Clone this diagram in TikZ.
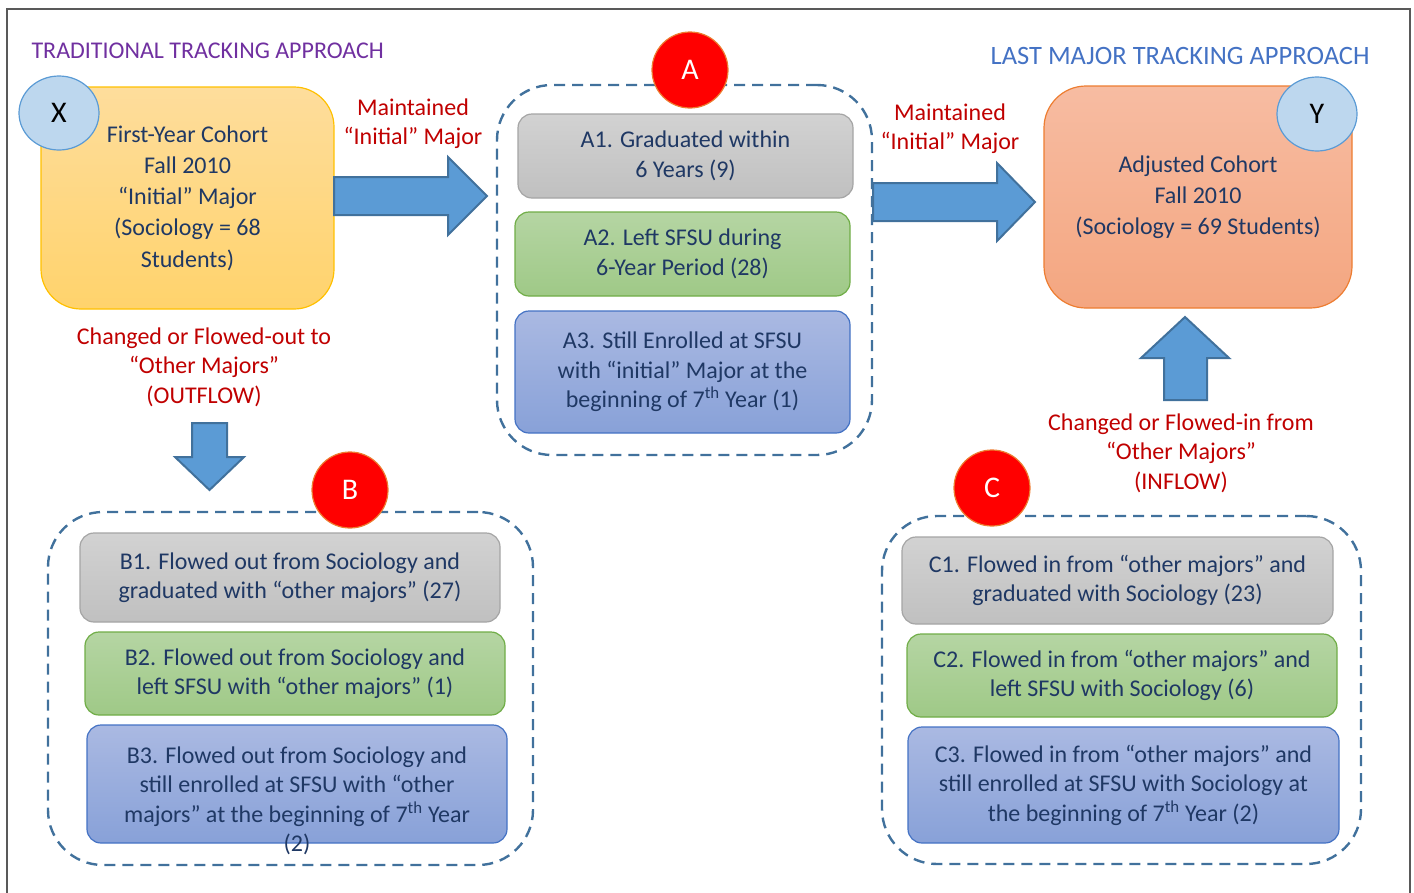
\documentclass[tikz,border=0pt]{standalone}
\usepackage{fontspec}
\setmainfont{Carlito}
\usepackage{xcolor}
\usetikzlibrary{shapes}
\usetikzlibrary{positioning}

\definecolor{txtblue}{HTML}{1F3864}
\definecolor{notered}{HTML}{C00000}
\definecolor{titlepurple}{HTML}{7030A0}
\definecolor{titleblue}{HTML}{4472C4}
\definecolor{frameline}{HTML}{595959}
\definecolor{dashblue}{HTML}{41719C}
\definecolor{arrowfill}{HTML}{5B9BD5}
\definecolor{arrowline}{HTML}{41719C}
\definecolor{grayA}{HTML}{D2D2D2}
\definecolor{grayB}{HTML}{C0C0C0}
\definecolor{grayline}{HTML}{A5A5A5}
\definecolor{greenA}{HTML}{B5D5A3}
\definecolor{greenB}{HTML}{9FC987}
\definecolor{greenline}{HTML}{70AD47}
\definecolor{blueA}{HTML}{AAB9E2}
\definecolor{blueB}{HTML}{88A1D8}
\definecolor{blueline}{HTML}{4472C4}
\definecolor{orangeA}{HTML}{FEDD9C}
\definecolor{orangeB}{HTML}{FFD36C}
\definecolor{orangeline}{HTML}{FFC000}
\definecolor{salmonA}{HTML}{F7BCA2}
\definecolor{salmonB}{HTML}{F4A680}
\definecolor{salmonline}{HTML}{ED7D31}
\definecolor{tagred}{HTML}{FF0000}
\definecolor{tagline}{HTML}{ED7D31}
\definecolor{whofill}{HTML}{BDD7EE}
\definecolor{wholine}{HTML}{5B9BD5}

\begin{document}
\begin{tikzpicture}[x=1pt, y=-1pt,
  every node/.style={font=\fontsize{24}{29.5}\selectfont, text=txtblue, align=center},
  box/.style={rectangle, rounded corners=14pt, line width=1.2pt, inner sep=0pt,
    execute at begin node={\rule{0pt}{23pt}}},
  graybox/.style={box, draw=grayline, top color=grayA, bottom color=grayB},
  greenbox/.style={box, draw=greenline, top color=greenA, bottom color=greenB},
  bluebox/.style={box, draw=blueline, top color=blueA, bottom color=blueB},
  group/.style={draw=dashblue, dash pattern=on 11pt off 7pt, line width=2.4pt,
    rounded corners=55pt, rectangle, inner sep=0pt},
  tag/.style={circle, minimum size=76pt, fill=tagred, draw=tagline, line width=1.2pt,
    text=white, font=\fontsize{30}{32}\selectfont},
  who/.style={ellipse, minimum width=80pt, minimum height=74pt, fill=whofill,
    draw=wholine, line width=1.2pt, text=black, font=\fontsize{30}{32}\selectfont},
  flow/.style={fill=arrowfill, draw=arrowline, line width=2pt, line join=miter},
  note/.style={text=notered},
]
\useasboundingbox (0,0) rectangle (1414,892);
\draw[frameline, line width=2pt] (7,9) rectangle (1410,910);

% titles
\node[text=titlepurple, anchor=west] (tradtitle) at (28,51) {TRADITIONAL TRACKING APPROACH};
\node[text=titleblue, anchor=east, font=\fontsize{26.5}{30}\selectfont] (lasttitle) at (1373,56) {LAST MAJOR TRACKING APPROACH};

% cohorts
\node[box, rounded corners=40pt, draw=orangeline, top color=orangeA, bottom color=orangeB,
  minimum width=293pt, minimum height=222pt, font=\fontsize{24}{31.2}\selectfont] (xbox) at (187.5,198)
  {First-Year Cohort\\Fall 2010\\“Initial” Major\\(Sociology = 68\\Students)};
\node[who] (xtag) at (59,113) {X};

\node[box, rounded corners=42pt, draw=salmonline, top color=salmonA, bottom color=salmonB,
  minimum width=308pt, minimum height=222pt, font=\fontsize{24}{31.2}\selectfont] (ybox) at (1198,197)
  {Adjusted Cohort\\Fall 2010\\(Sociology = 69 Students)};
\node[who] (ytag) at (1317,114) {Y};

% block arrows
\draw[flow] (334,177) -- (448,177) -- (448,157) -- (487,196) -- (448,235) -- (448,215) -- (334,215) -- cycle;
\draw[flow] (873,183) -- (997,183) -- (997,163) -- (1035,202) -- (997,241) -- (997,221) -- (873,221) -- cycle;
\draw[flow] (1164,400) -- (1164,358) -- (1141,358) -- (1185,317) -- (1229,358) -- (1207,358) -- (1207,400) -- cycle;
\draw[flow] (192,423) -- (227,423) -- (227,457) -- (244,457) -- (209.5,490) -- (175,457) -- (192,457) -- cycle;

\node[note] (keepx) at (413,123.5) {Maintained\\“Initial” Major};
\node[note] (keepa) at (950,128.5) {Maintained\\“Initial” Major};
\node[note] (outflow) at (204,367) {Changed or Flowed-out to\\“Other Majors”\\(OUTFLOW)};
\node[note] (inflow) at (1181,453) {Changed or Flowed-in from\\“Other Majors”\\(INFLOW)};

% group A
\node[group, minimum width=375pt, minimum height=370pt] (grpa) at (684.5,270) {};
\node[graybox, minimum width=335pt, minimum height=84pt] (a1) at (685.5,156)
  {A1. Graduated within\\6 Years (9)};
\node[greenbox, minimum width=335pt, minimum height=84pt] (a2) at (682.5,254)
  {A2. Left SFSU during\\6-Year Period (28)};
\node[bluebox, minimum width=335pt, minimum height=122pt] (a3) at (682.5,372)
  {A3. Still Enrolled at SFSU\\with “initial” Major at the\\beginning of 7\textsuperscript{th} Year (1)};
\node[tag] (taga) at (690,70) {A};

% group B
\node[group, minimum width=485pt, minimum height=353pt] (grpb) at (290.5,688.5) {};
\node[graybox, minimum width=420pt, minimum height=89pt] (b1) at (290,577.5)
  {B1. Flowed out from Sociology and\\graduated with “other majors” (27)};
\node[greenbox, minimum width=420pt, minimum height=83pt] (b2) at (295,673.5)
  {B2. Flowed out from Sociology and\\left SFSU with “other majors” (1)};
\node[bluebox, minimum width=420pt, minimum height=118pt] (b3) at (297,784) {};
\node (b3text) at (297,801)
  {B3. Flowed out from Sociology and\\still enrolled at SFSU with “other\\majors” at the beginning of 7\textsuperscript{th} Year\\(2)};
\node[tag] (tagb) at (350,490) {B};

% group C
\node[group, minimum width=479pt, minimum height=348pt] (grpc) at (1121.5,690) {};
\node[graybox, minimum width=431pt, minimum height=87pt] (c1) at (1117.5,580.5)
  {C1. Flowed in from “other majors” and\\graduated with Sociology (23)};
\node[greenbox, minimum width=430pt, minimum height=83pt] (c2) at (1122,675.5)
  {C2. Flowed in from “other majors” and\\left SFSU with Sociology (6)};
\node[bluebox, minimum width=431pt, minimum height=116pt] (c3) at (1123.5,785)
  {C3. Flowed in from “other majors” and\\still enrolled at SFSU with Sociology at\\the beginning of 7\textsuperscript{th} Year (2)};
\node[tag] (tagc) at (992,488) {C};
\end{tikzpicture}
\end{document}
